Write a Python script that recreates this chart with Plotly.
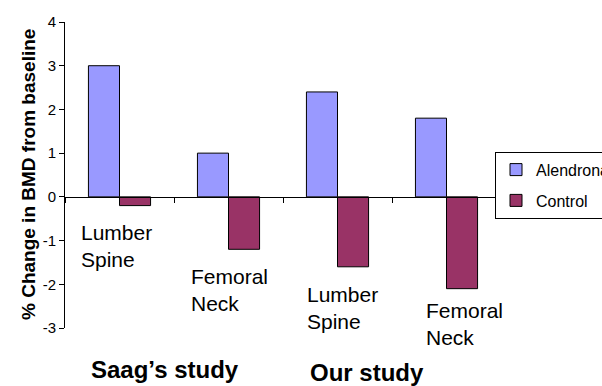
import plotly.graph_objects as go

categories = ["Saag Lumber Spine", "Saag Femoral Neck", "Our Lumber Spine", "Our Femoral Neck"]
alendronate = [3.0, 1.0, 2.4, 1.8]
control = [-0.2, -1.2, -1.6, -2.1]
site_labels = ["Lumber<br>Spine", "Femoral<br>Neck", "Lumber<br>Spine", "Femoral<br>Neck"]
study_labels = ["Saag\u2019s study", "Our study"]
y_ticks = [-3, -2, -1, 0, 1, 2, 3, 4]
y_ticktext = ["-3", "-2", "-1", "0", "1", "2", "3", "4"]

W, H = 602, 386
ML, MR, MT, MB = 65, 101, 22, 58
plot_w = W - ML - MR
plot_h = H - MT - MB

fig = go.Figure()
fig.add_trace(go.Bar(x=categories, y=alendronate, name="Alendronate", legendgroup="a",
                     marker=dict(color="#9999FF", line=dict(color="#000000", width=1))))
fig.add_trace(go.Bar(x=categories, y=control, name="Control", legendgroup="c",
                     marker=dict(color="#993366", line=dict(color="#000000", width=1))))

font_family = "Arial, Liberation Sans, sans-serif"

# site labels inside plot
label_pos = [(-0.37, -1.13), (0.64, -2.13), (1.70, -2.54), (2.79, -2.9)]
for (lx, ly), txt in zip(label_pos, site_labels):
    fig.add_annotation(x=lx, y=ly, xref="x", yref="y", text=txt, showarrow=False,
                       xanchor="left", yanchor="middle", align="left",
                       font=dict(family=font_family, size=21, color="#000000"))

# study labels below the plot (paper coordinates)
study_px = [(89, 369), (308, 372.5)]
for (px, py), txt in zip(study_px, study_labels):
    fig.add_annotation(x=(px - ML) / plot_w, y=(H - MB - py) / plot_h, xref="paper", yref="paper",
                       text="<b>" + txt + "</b>", showarrow=False,
                       xanchor="left", yanchor="middle",
                       font=dict(family=font_family, size=24, color="#000000"))

fig.add_annotation(x=(28 - ML) / plot_w, y=0.5, xref="paper", yref="paper",
                   text="<b>% Change in BMD from baseline</b>", textangle=-90, showarrow=False,
                   xanchor="center", yanchor="middle",
                   font=dict(family=font_family, size=19, color="#000000"))

fig.update_layout(
    width=W, height=H,
    margin=dict(l=ML, r=MR, t=MT, b=MB, autoexpand=False),
    paper_bgcolor="white", plot_bgcolor="white",
    barmode="group", bargap=0.43, bargroupgap=0,
    font=dict(family=font_family, color="#000000"),
    showlegend=True,
    legend=dict(x=(495 - ML) / plot_w, y=(H - MB - 151.7) / plot_h, xanchor="left", yanchor="top",
                bgcolor="white", bordercolor="#000000", borderwidth=1,
                tracegroupgap=7,
                font=dict(family=font_family, size=16, color="#000000"),
                itemclick=False),
    xaxis=dict(type="category", range=[-0.5, 3.5], anchor="free", position=3 / 7,
               showline=True, linecolor="#000000", linewidth=1,
               ticks="outside", tickson="boundaries", ticklen=5, tickcolor="#000000",
               showticklabels=False, showgrid=False, zeroline=False),
    yaxis=dict(range=[-3, 4], tickvals=y_ticks, ticktext=y_ticktext,
               showline=True, linecolor="#000000", linewidth=1,
               ticks="outside", ticklen=5, tickcolor="#000000", showgrid=False, zeroline=False,
               tickfont=dict(family=font_family, size=15, color="#000000")),
)

fig.write_html("out.html", config={"displayModeBar": False},
               post_script="document.body.style.margin='0';document.body.style.overflow='hidden';")
